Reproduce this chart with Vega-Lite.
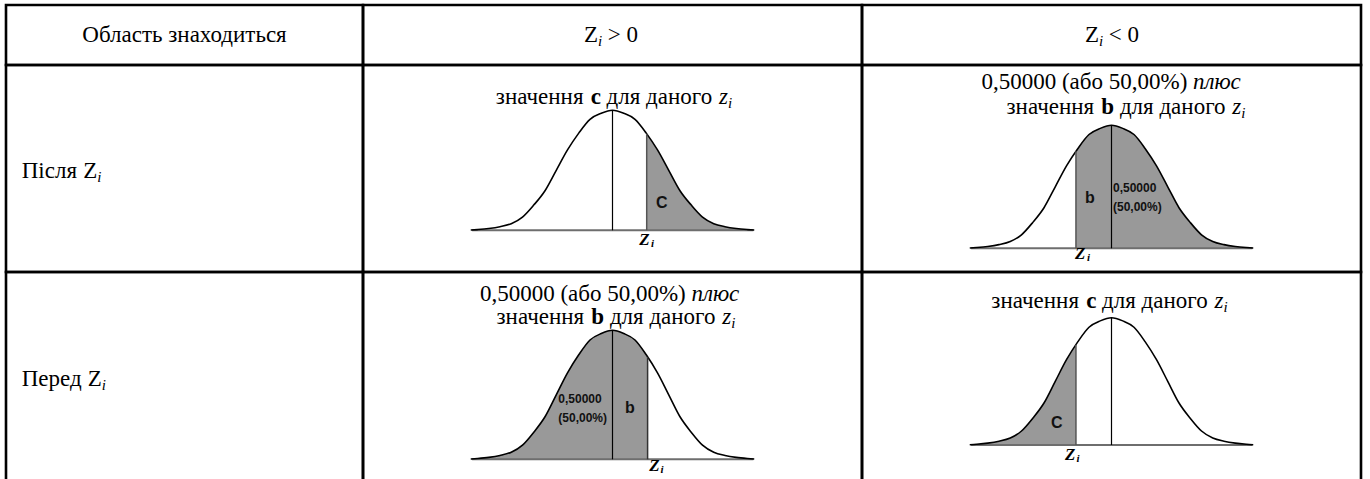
{
"$schema":"https://vega.github.io/schema/vega-lite/v6.json",
"background":"white",
"padding":{"left":4,"top":3,"right":0,"bottom":0},
"config":{"view":{"stroke":"black","strokeWidth":2.6},"concat":{"spacing":0}},
"datasets":{
"curve":[{"u":-3.15,"v":0.002},{"u":-3,"v":0.006},{"u":-2.75,"v":0.015},{"u":-2.5,"v":0.03},{"u":-2.25,"v":0.055},{"u":-2,"v":0.11},{"u":-1.75,"v":0.21},{"u":-1.5,"v":0.33},{"u":-1.25,"v":0.5},{"u":-1,"v":0.67},{"u":-0.75,"v":0.81},{"u":-0.5,"v":0.925},{"u":-0.25,"v":0.975},{"u":0,"v":1},{"u":0.25,"v":0.975},{"u":0.5,"v":0.925},{"u":0.75,"v":0.81},{"u":1,"v":0.67},{"u":1.25,"v":0.5},{"u":1.5,"v":0.33},{"u":1.75,"v":0.21},{"u":2,"v":0.11},{"u":2.25,"v":0.055},{"u":2.5,"v":0.03},{"u":2.75,"v":0.015},{"u":3,"v":0.006},{"u":3.15,"v":0.002}],
"areaR":[{"u":0.76,"v":0.804},{"u":1,"v":0.67},{"u":1.25,"v":0.5},{"u":1.5,"v":0.33},{"u":1.75,"v":0.21},{"u":2,"v":0.11},{"u":2.25,"v":0.055},{"u":2.5,"v":0.03},{"u":2.75,"v":0.015},{"u":3,"v":0.006},{"u":3.15,"v":0.002}],
"areaBR":[{"u":-0.79,"v":0.788},{"u":-0.75,"v":0.81},{"u":-0.5,"v":0.925},{"u":-0.25,"v":0.975},{"u":0,"v":1},{"u":0.25,"v":0.975},{"u":0.5,"v":0.925},{"u":0.75,"v":0.81},{"u":1,"v":0.67},{"u":1.25,"v":0.5},{"u":1.5,"v":0.33},{"u":1.75,"v":0.21},{"u":2,"v":0.11},{"u":2.25,"v":0.055},{"u":2.5,"v":0.03},{"u":2.75,"v":0.015},{"u":3,"v":0.006},{"u":3.15,"v":0.002}],
"areaBL":[{"u":-3.15,"v":0.002},{"u":-3,"v":0.006},{"u":-2.75,"v":0.015},{"u":-2.5,"v":0.03},{"u":-2.25,"v":0.055},{"u":-2,"v":0.11},{"u":-1.75,"v":0.21},{"u":-1.5,"v":0.33},{"u":-1.25,"v":0.5},{"u":-1,"v":0.67},{"u":-0.75,"v":0.81},{"u":-0.5,"v":0.925},{"u":-0.25,"v":0.975},{"u":0,"v":1},{"u":0.25,"v":0.975},{"u":0.5,"v":0.925},{"u":0.75,"v":0.81},{"u":0.78,"v":0.793}],
"areaL":[{"u":-3.15,"v":0.002},{"u":-3,"v":0.006},{"u":-2.75,"v":0.015},{"u":-2.5,"v":0.03},{"u":-2.25,"v":0.055},{"u":-2,"v":0.11},{"u":-1.75,"v":0.21},{"u":-1.5,"v":0.33},{"u":-1.25,"v":0.5},{"u":-1,"v":0.67},{"u":-0.79,"v":0.788}]
},
"columns":3,
"spacing":0,
"bounds":"flush",
"concat":[
 {"width":357,"height":60,
  "data":{"values":[{"u":0.5,"v":0.383,"t":"Область знаходиться"}]},
  "mark":{"type":"text","align":"center","baseline":"alphabetic","font":"Liberation Serif","fontSize":23,"color":"black"},
  "encoding":{"x":{"field":"u","type":"quantitative","scale":{"domain":[0,1],"nice":false},"axis":null},"y":{"field":"v","type":"quantitative","scale":{"domain":[0,1],"nice":false},"axis":null},"text":{"field":"t"}}},
 {"width":499,"height":60,
  "encoding":{"x":{"field":"u","type":"quantitative","scale":{"domain":[-5.5444,5.5444],"nice":false},"axis":null},"y":{"field":"v","type":"quantitative","scale":{"domain":[0,1],"nice":false},"axis":null},"text":{"field":"t"}},
  "layer":[
   {"data":{"values":[{"u":-0.636,"v":0.383,"t":"Z"},{"u":-0.103,"v":0.383,"t":"> 0"}]},"mark":{"type":"text","align":"left","baseline":"alphabetic","font":"Liberation Serif","fontSize":23,"color":"black"}},
   {"data":{"values":[{"u":-0.324,"v":0.3167,"t":"i"}]},"mark":{"type":"text","align":"left","baseline":"alphabetic","font":"Liberation Serif","fontSize":15,"fontStyle":"italic","color":"black"}}
  ]},
 {"width":499,"height":60,
  "encoding":{"x":{"field":"u","type":"quantitative","scale":{"domain":[-5.5444,5.5444],"nice":false},"axis":null},"y":{"field":"v","type":"quantitative","scale":{"domain":[0,1],"nice":false},"axis":null},"text":{"field":"t"}},
  "layer":[
   {"data":{"values":[{"u":-0.591,"v":0.383,"t":"Z"},{"u":-0.059,"v":0.383,"t":"< 0"}]},"mark":{"type":"text","align":"left","baseline":"alphabetic","font":"Liberation Serif","fontSize":23,"color":"black"}},
   {"data":{"values":[{"u":-0.28,"v":0.3167,"t":"i"}]},"mark":{"type":"text","align":"left","baseline":"alphabetic","font":"Liberation Serif","fontSize":15,"fontStyle":"italic","color":"black"}}
  ]},
 {"width":357,"height":207,
  "encoding":{"x":{"field":"u","type":"quantitative","scale":{"domain":[0,1],"nice":false},"axis":null},"y":{"field":"v","type":"quantitative","scale":{"domain":[0,1],"nice":false},"axis":null},"text":{"field":"t"}},
  "layer":[
   {"data":{"values":[{"u":0.044,"v":0.4556,"t":"Після"},{"u":0.2164,"v":0.4556,"t":"Z"}]},"mark":{"type":"text","align":"left","baseline":"alphabetic","font":"Liberation Serif","fontSize":23,"color":"black"}},
   {"data":{"values":[{"u":0.2556,"v":0.4362,"t":"i"}]},"mark":{"type":"text","align":"left","baseline":"alphabetic","font":"Liberation Serif","fontSize":15,"fontStyle":"italic","color":"black"}}
  ]},
 {"width":499,"height":207,
  "encoding":{"x":{"field":"u","type":"quantitative","scale":{"domain":[-5.5444,5.5444],"nice":false},"axis":null},"y":{"field":"v","type":"quantitative","scale":{"domain":[-0.3475,1.3775],"nice":false,"zero":false},"axis":null}},
  "layer":[
   {"data":{"name":"areaR"},"mark":{"type":"area","color":"#999999","interpolate":"monotone"},"encoding":{"y2":{"datum":0}}},
   {"data":{"values":[{"u":-3.12,"u2":3.13,"v":0}]},"mark":{"type":"rule","color":"#6e6e6e","strokeWidth":2},"encoding":{"x2":{"field":"u2"}}},
   {"data":{"name":"curve"},"mark":{"type":"line","color":"black","strokeWidth":1.6,"interpolate":"monotone"},"encoding":{}},
   {"data":{"values":[{"u":0,"v":0,"v2":1}]},"mark":{"type":"rule","color":"black","strokeWidth":1.2},"encoding":{"y2":{"field":"v2"}}},
   {"data":{"values":[{"u":0.76,"v":0,"v2":0.804}]},"mark":{"type":"rule","color":"#555555","strokeWidth":1.5},"encoding":{"y2":{"field":"v2"}}},
   {"data":{"values":[{"u":-2.593,"v":1.0525,"t":"значення"},{"u":-0.131,"v":1.0525,"t":"для даного"}]},"mark":{"type":"text","align":"left","baseline":"alphabetic","font":"Liberation Serif","fontSize":23,"color":"black"},"encoding":{"text":{"field":"t"}}},
   {"data":{"values":[{"u":-0.484,"v":1.0525,"t":"c"}]},"mark":{"type":"text","align":"left","baseline":"alphabetic","font":"Liberation Serif","fontSize":23,"fontWeight":"bold","color":"black"},"encoding":{"text":{"field":"t"}}},
   {"data":{"values":[{"u":2.369,"v":1.0525,"t":"z"}]},"mark":{"type":"text","align":"left","baseline":"alphabetic","font":"Liberation Serif","fontSize":23,"fontStyle":"italic","color":"black"},"encoding":{"text":{"field":"t"}}},
   {"data":{"values":[{"u":2.567,"v":1.0192,"t":"i"}]},"mark":{"type":"text","align":"left","baseline":"alphabetic","font":"Liberation Serif","fontSize":15,"fontStyle":"italic","color":"black"},"encoding":{"text":{"field":"t"}}},
   {"data":{"values":[{"u":1.093,"v":0.23,"t":"C"}]},"mark":{"type":"text","align":"center","baseline":"middle","font":"Liberation Sans","fontSize":16,"fontWeight":"bold","color":"#111111"},"encoding":{"text":{"field":"t"}}},
   {"data":{"values":[{"u":0.596,"v":-0.1225,"t":"Z"}]},"mark":{"type":"text","align":"left","baseline":"alphabetic","font":"Liberation Serif","fontSize":17,"fontWeight":"bold","fontStyle":"italic","color":"black"},"encoding":{"text":{"field":"t"}}},
   {"data":{"values":[{"u":0.853,"v":-0.139,"t":"i"}]},"mark":{"type":"text","align":"left","baseline":"alphabetic","font":"Liberation Serif","fontSize":11,"fontWeight":"bold","fontStyle":"italic","color":"black"},"encoding":{"text":{"field":"t"}}}
  ]},
 {"width":499,"height":207,
  "encoding":{"x":{"field":"u","type":"quantitative","scale":{"domain":[-5.5444,5.5444],"nice":false},"axis":null},"y":{"field":"v","type":"quantitative","scale":{"domain":[-0.1927,1.4902],"nice":false,"zero":false},"axis":null}},
  "layer":[
   {"data":{"name":"areaBR"},"mark":{"type":"area","color":"#999999","interpolate":"monotone"},"encoding":{"y2":{"datum":0}}},
   {"data":{"values":[{"u":-3.12,"u2":3.13,"v":0}]},"mark":{"type":"rule","color":"#6e6e6e","strokeWidth":2},"encoding":{"x2":{"field":"u2"}}},
   {"data":{"name":"curve"},"mark":{"type":"line","color":"black","strokeWidth":1.6,"interpolate":"monotone"},"encoding":{}},
   {"data":{"values":[{"u":0,"v":0,"v2":1}]},"mark":{"type":"rule","color":"black","strokeWidth":1.2},"encoding":{"y2":{"field":"v2"}}},
   {"data":{"values":[{"u":-0.79,"v":0,"v2":0.788}]},"mark":{"type":"rule","color":"#555555","strokeWidth":1.5},"encoding":{"y2":{"field":"v2"}}},
   {"data":{"values":[{"u":-2.891,"v":1.2976,"t":"0,50000 (або 50,00%)"},{"u":-2.333,"v":1.0894,"t":"значення"},{"u":0.1867,"v":1.0894,"t":"для даного"}]},"mark":{"type":"text","align":"left","baseline":"alphabetic","font":"Liberation Serif","fontSize":23,"color":"black"},"encoding":{"text":{"field":"t"}}},
   {"data":{"values":[{"u":-0.2256,"v":1.0894,"t":"b"}]},"mark":{"type":"text","align":"left","baseline":"alphabetic","font":"Liberation Serif","fontSize":23,"fontWeight":"bold","color":"black"},"encoding":{"text":{"field":"t"}}},
   {"data":{"values":[{"u":1.812,"v":1.2976,"t":"плюс"},{"u":2.686,"v":1.0894,"t":"z"}]},"mark":{"type":"text","align":"left","baseline":"alphabetic","font":"Liberation Serif","fontSize":23,"fontStyle":"italic","color":"black"},"encoding":{"text":{"field":"t"}}},
   {"data":{"values":[{"u":2.883,"v":1.0569,"t":"i"}]},"mark":{"type":"text","align":"left","baseline":"alphabetic","font":"Liberation Serif","fontSize":15,"fontStyle":"italic","color":"black"},"encoding":{"text":{"field":"t"}}},
   {"data":{"values":[{"u":-0.478,"v":0.411,"t":"b"}]},"mark":{"type":"text","align":"center","baseline":"middle","font":"Liberation Sans","fontSize":16,"fontWeight":"bold","color":"#111111"},"encoding":{"text":{"field":"t"}}},
   {"data":{"values":[{"u":0.033,"v":0.4927,"t":"0,50000"},{"u":0.033,"v":0.3358,"t":"(50,00%)"}]},"mark":{"type":"text","align":"left","baseline":"middle","font":"Liberation Sans","fontSize":12,"fontWeight":"bold","color":"#111111"},"encoding":{"text":{"field":"t"}}},
   {"data":{"values":[{"u":-0.811,"v":-0.0894,"t":"Z"}]},"mark":{"type":"text","align":"left","baseline":"alphabetic","font":"Liberation Serif","fontSize":17,"fontWeight":"bold","fontStyle":"italic","color":"black"},"encoding":{"text":{"field":"t"}}},
   {"data":{"values":[{"u":-0.547,"v":-0.1057,"t":"i"}]},"mark":{"type":"text","align":"left","baseline":"alphabetic","font":"Liberation Serif","fontSize":11,"fontWeight":"bold","fontStyle":"italic","color":"black"},"encoding":{"text":{"field":"t"}}}
  ]},
 {"width":357,"height":212,
  "encoding":{"x":{"field":"u","type":"quantitative","scale":{"domain":[0,1],"nice":false},"axis":null},"y":{"field":"v","type":"quantitative","scale":{"domain":[0,1],"nice":false},"axis":null},"text":{"field":"t"}},
  "layer":[
   {"data":{"values":[{"u":0.044,"v":0.4623,"t":"Перед"},{"u":0.2289,"v":0.4623,"t":"Z"}]},"mark":{"type":"text","align":"left","baseline":"alphabetic","font":"Liberation Serif","fontSize":23,"color":"black"}},
   {"data":{"values":[{"u":0.268,"v":0.4434,"t":"i"}]},"mark":{"type":"text","align":"left","baseline":"alphabetic","font":"Liberation Serif","fontSize":15,"fontStyle":"italic","color":"black"}}
  ]},
 {"width":499,"height":212,
  "encoding":{"x":{"field":"u","type":"quantitative","scale":{"domain":[-5.5444,5.5444],"nice":false},"axis":null},"y":{"field":"v","type":"quantitative","scale":{"domain":[-0.1915,1.4519],"nice":false,"zero":false},"axis":null}},
  "layer":[
   {"data":{"name":"areaBL"},"mark":{"type":"area","color":"#999999","interpolate":"monotone"},"encoding":{"y2":{"datum":0}}},
   {"data":{"values":[{"u":-3.12,"u2":3.13,"v":0}]},"mark":{"type":"rule","color":"#6e6e6e","strokeWidth":2},"encoding":{"x2":{"field":"u2"}}},
   {"data":{"name":"curve"},"mark":{"type":"line","color":"black","strokeWidth":1.6,"interpolate":"monotone"},"encoding":{}},
   {"data":{"values":[{"u":0,"v":0,"v2":1}]},"mark":{"type":"rule","color":"black","strokeWidth":1.2},"encoding":{"y2":{"field":"v2"}}},
   {"data":{"values":[{"u":0.78,"v":0,"v2":0.793}]},"mark":{"type":"rule","color":"#333333","strokeWidth":1.5},"encoding":{"y2":{"field":"v2"}}},
   {"data":{"values":[{"u":-2.947,"v":1.2271,"t":"0,50000 (або 50,00%)"},{"u":-2.578,"v":1.0465,"t":"значення"},{"u":-0.058,"v":1.0465,"t":"для даного"}]},"mark":{"type":"text","align":"left","baseline":"alphabetic","font":"Liberation Serif","fontSize":23,"color":"black"},"encoding":{"text":{"field":"t"}}},
   {"data":{"values":[{"u":-0.47,"v":1.0465,"t":"b"}]},"mark":{"type":"text","align":"left","baseline":"alphabetic","font":"Liberation Serif","fontSize":23,"fontWeight":"bold","color":"black"},"encoding":{"text":{"field":"t"}}},
   {"data":{"values":[{"u":1.757,"v":1.2271,"t":"плюс"},{"u":2.441,"v":1.0465,"t":"z"}]},"mark":{"type":"text","align":"left","baseline":"alphabetic","font":"Liberation Serif","fontSize":23,"fontStyle":"italic","color":"black"},"encoding":{"text":{"field":"t"}}},
   {"data":{"values":[{"u":2.639,"v":1.0155,"t":"i"}]},"mark":{"type":"text","align":"left","baseline":"alphabetic","font":"Liberation Serif","fontSize":15,"fontStyle":"italic","color":"black"},"encoding":{"text":{"field":"t"}}},
   {"data":{"values":[{"u":0.389,"v":0.4,"t":"b"}]},"mark":{"type":"text","align":"center","baseline":"middle","font":"Liberation Sans","fontSize":16,"fontWeight":"bold","color":"#111111"},"encoding":{"text":{"field":"t"}}},
   {"data":{"values":[{"u":-1.204,"v":0.4674,"t":"0,50000"},{"u":-1.204,"v":0.3225,"t":"(50,00%)"}]},"mark":{"type":"text","align":"left","baseline":"middle","font":"Liberation Sans","fontSize":12,"fontWeight":"bold","color":"#111111"},"encoding":{"text":{"field":"t"}}},
   {"data":{"values":[{"u":0.818,"v":-0.0907,"t":"Z"}]},"mark":{"type":"text","align":"left","baseline":"alphabetic","font":"Liberation Serif","fontSize":17,"fontWeight":"bold","fontStyle":"italic","color":"black"},"encoding":{"text":{"field":"t"}}},
   {"data":{"values":[{"u":1.064,"v":-0.106,"t":"i"}]},"mark":{"type":"text","align":"left","baseline":"alphabetic","font":"Liberation Serif","fontSize":11,"fontWeight":"bold","fontStyle":"italic","color":"black"},"encoding":{"text":{"field":"t"}}}
  ]},
 {"width":499,"height":212,
  "encoding":{"x":{"field":"u","type":"quantitative","scale":{"domain":[-5.5444,5.5444],"nice":false},"axis":null},"y":{"field":"v","type":"quantitative","scale":{"domain":[-0.3064,1.359],"nice":false,"zero":false},"axis":null}},
  "layer":[
   {"data":{"name":"areaL"},"mark":{"type":"area","color":"#999999","interpolate":"monotone"},"encoding":{"y2":{"datum":0}}},
   {"data":{"values":[{"u":-3.12,"u2":3.13,"v":0}]},"mark":{"type":"rule","color":"#6e6e6e","strokeWidth":2},"encoding":{"x2":{"field":"u2"}}},
   {"data":{"name":"curve"},"mark":{"type":"line","color":"black","strokeWidth":1.6,"interpolate":"monotone"},"encoding":{}},
   {"data":{"values":[{"u":0,"v":0,"v2":1}]},"mark":{"type":"rule","color":"black","strokeWidth":1.2},"encoding":{"y2":{"field":"v2"}}},
   {"data":{"values":[{"u":-0.79,"v":0,"v2":0.788}]},"mark":{"type":"rule","color":"#555555","strokeWidth":1.5},"encoding":{"y2":{"field":"v2"}}},
   {"data":{"values":[{"u":-2.671,"v":1.0738,"t":"значення"},{"u":-0.2089,"v":1.0738,"t":"для даного"}]},"mark":{"type":"text","align":"left","baseline":"alphabetic","font":"Liberation Serif","fontSize":23,"color":"black"},"encoding":{"text":{"field":"t"}}},
   {"data":{"values":[{"u":-0.5633,"v":1.0738,"t":"c"}]},"mark":{"type":"text","align":"left","baseline":"alphabetic","font":"Liberation Serif","fontSize":23,"fontWeight":"bold","color":"black"},"encoding":{"text":{"field":"t"}}},
   {"data":{"values":[{"u":2.29,"v":1.0738,"t":"z"}]},"mark":{"type":"text","align":"left","baseline":"alphabetic","font":"Liberation Serif","fontSize":23,"fontStyle":"italic","color":"black"},"encoding":{"text":{"field":"t"}}},
   {"data":{"values":[{"u":2.488,"v":1.0424,"t":"i"}]},"mark":{"type":"text","align":"left","baseline":"alphabetic","font":"Liberation Serif","fontSize":15,"fontStyle":"italic","color":"black"},"encoding":{"text":{"field":"t"}}},
   {"data":{"values":[{"u":-1.218,"v":0.175,"t":"C"}]},"mark":{"type":"text","align":"center","baseline":"middle","font":"Liberation Sans","fontSize":16,"fontWeight":"bold","color":"#111111"},"encoding":{"text":{"field":"t"}}},
   {"data":{"values":[{"u":-1.033,"v":-0.12,"t":"Z"}]},"mark":{"type":"text","align":"left","baseline":"alphabetic","font":"Liberation Serif","fontSize":17,"fontWeight":"bold","fontStyle":"italic","color":"black"},"encoding":{"text":{"field":"t"}}},
   {"data":{"values":[{"u":-0.78,"v":-0.136,"t":"i"}]},"mark":{"type":"text","align":"left","baseline":"alphabetic","font":"Liberation Serif","fontSize":11,"fontWeight":"bold","fontStyle":"italic","color":"black"},"encoding":{"text":{"field":"t"}}}
  ]}
]
}
